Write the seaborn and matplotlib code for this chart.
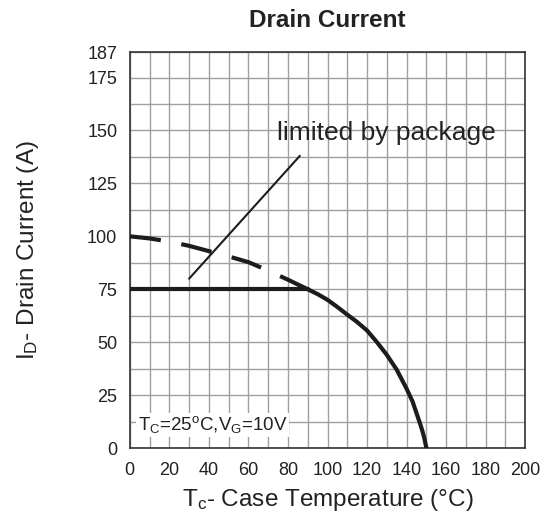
import numpy as np
import pandas as pd
import matplotlib.pyplot as plt
import seaborn as sns

# values
temp_limit = [0, 90]
current_limit = [75, 75]
temp_dash = [0, 10, 20, 30, 40, 50, 60, 70, 80, 90]
current_dash = [100, 99, 97.5, 95.5, 93, 90.5, 87.8, 83.8, 79.5, 75]
temp_solid = [90, 95, 100, 105, 110, 115, 120, 125, 130, 135, 140, 143, 145, 147, 148, 149, 150]
current_solid = [75, 72.7, 70, 66.6, 63, 59.5, 55.5, 50, 44, 37, 28, 22, 16.5, 11, 8, 4.5, 0]
pointer_temp = [30, 86]
pointer_current = [80, 138]

x_ticks = [0, 20, 40, 60, 80, 100, 120, 140, 160, 180, 200]
y_ticks = [0, 25, 50, 75, 100, 125, 150, 175, 187]

sns.set_theme(style="white")
plt.rcParams['font.family'] = ['Liberation Sans', 'DejaVu Sans']
plt.rcParams['mathtext.fontset'] = 'custom'
plt.rcParams['mathtext.rm'] = 'Liberation Sans'
plt.rcParams['mathtext.it'] = 'Liberation Sans:italic'
plt.rcParams['mathtext.bf'] = 'Liberation Sans:bold'

fig, ax = plt.subplots(figsize=(5.5, 5.21), dpi=100)
fig.subplots_adjust(left=0.236, right=0.955, bottom=0.140, top=0.900)

ink = '#1c1c1c'
sns.lineplot(x=temp_limit, y=current_limit, ax=ax, color=ink, lw=3, zorder=4)
sns.lineplot(x=temp_dash, y=current_dash, ax=ax, color=ink, lw=3,
             dashes=False, zorder=4).lines[-1].set_dashes((7.5, 5))
sns.lineplot(x=temp_solid, y=current_solid, ax=ax, color=ink, lw=3, zorder=4)
sns.lineplot(x=pointer_temp, y=pointer_current, ax=ax, color=ink, lw=1.5, zorder=4)

ax.set_xlim(0, 200)
ax.set_ylim(0, 187)
ax.set_xticks(x_ticks)
ax.set_yticks(y_ticks)
ax.set_xticks(np.arange(10, 200, 20), minor=True)
ax.set_yticks(np.arange(12.5, 187, 25), minor=True)
ax.grid(which='both', color='#a0a0a0', lw=1)
ax.tick_params(which='both', length=0, labelsize=13, colors='#222222')
ax.tick_params(axis='x', pad=10)
ax.tick_params(axis='y', pad=9)
for s in ax.spines.values():
    s.set_color('#333333')
    s.set_linewidth(1.2)

ax.set_title('Drain Current', fontsize=17.5, fontweight='bold', color='#222222', pad=18)
ax.set_xlabel(r'T$_\mathrm{c}$- Case Temperature (°C)', fontsize=17.5, color='#222222', labelpad=6)
ax.set_ylabel(r'I$_\mathrm{D}$- Drain Current (A)', fontsize=17.5, color='#222222', labelpad=33)

ax.text(74.5, 149, 'limited by package', fontsize=19, color='#222222', va='center', ha='left')
ax.text(4, 11, r'T$_\mathrm{C}$=25$^\mathrm{o}$C,V$_\mathrm{G}$=10V', fontsize=13.5,
        color='#222222', va='center', ha='left',
        bbox=dict(facecolor='white', edgecolor='none', pad=1))

fig.savefig('out.png', dpi=100)
